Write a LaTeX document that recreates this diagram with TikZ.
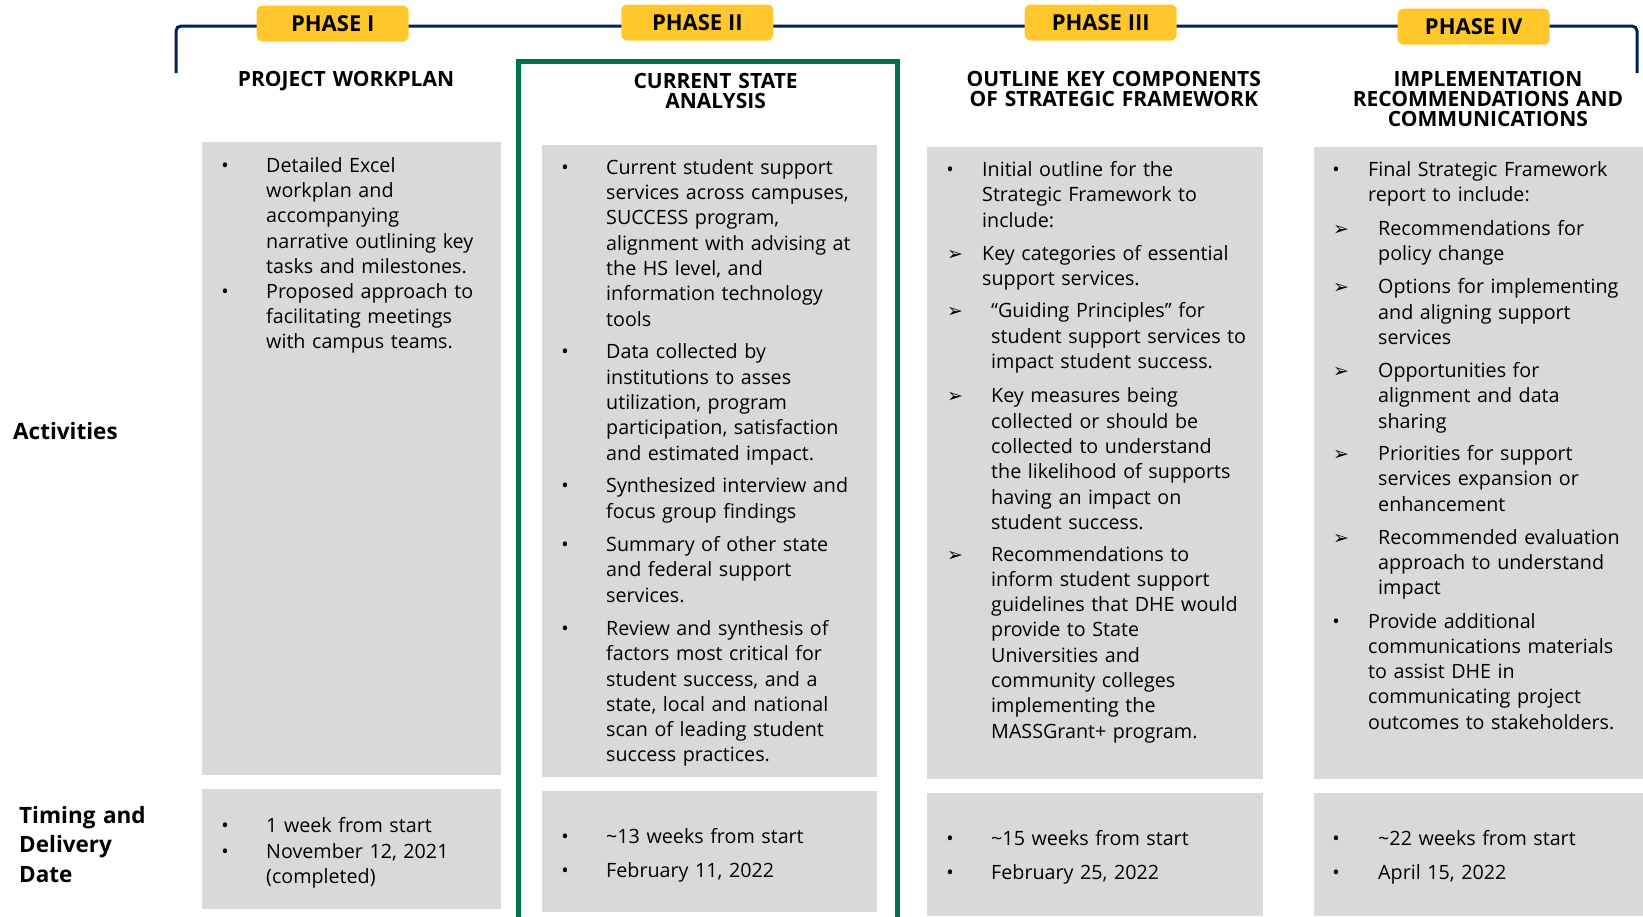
\documentclass[tikz,border=0pt]{standalone}
\usepackage{fontspec}
\setmainfont{Open Sans}
\newfontfamily\headfont{Open Sans}
\newfontfamily\symfont{DejaVu Sans}
\usetikzlibrary{positioning}

\definecolor{navyline}{RGB}{0,32,96}
\definecolor{phaseyellow}{RGB}{255,199,44}
\definecolor{framegreen}{RGB}{0,114,80}
\definecolor{boxgray}{RGB}{217,217,217}

\tikzset{
  phase/.style={fill=phaseyellow, rounded corners=6pt, minimum width=152pt,
    minimum height=36pt, inner sep=0pt, font=\headfont\bfseries\fontsize{22}{22}\selectfont},
  colhead/.style={anchor=base, text width=380pt, align=center, inner sep=0pt,
    font=\headfont\bfseries\fontsize{21}{20}\selectfont},
  rowhead/.style={anchor=base west, text width=170pt, align=left, inner sep=0pt,
    font=\bfseries\fontsize{22.5}{29.3}\selectfont},
  item/.style={anchor=base west, text width=340pt, align=left, inner sep=0pt,
    font=\fontsize{19.7}{25.3}\selectfont},
  dotmark/.style={anchor=base, inner sep=0pt, font=\fontsize{19.7}{25.3}\selectfont},
  arrowmark/.style={anchor=base, inner sep=0pt, font=\symfont\fontsize{19}{25.3}\selectfont}
}

\begin{document}
\begin{tikzpicture}[x=1pt, y=-1pt]
  \useasboundingbox (0,0) rectangle (1643,916);

  % timeline bar across the top
  \draw[navyline, line width=3pt, rounded corners=5pt]
    (176,73) -- (176,26) -- (1637,26) -- (1637,73);

  % grey panels: activities row, then timing row
  \fill[boxgray] (202,142) rectangle (501,775);
  \fill[boxgray] (542,145) rectangle (877,777);
  \fill[boxgray] (927,147) rectangle (1263,779);
  \fill[boxgray] (1314,147) rectangle (1643,779);
  \fill[boxgray] (202,789) rectangle (501,909);
  \fill[boxgray] (542,791) rectangle (877,912);
  \fill[boxgray] (927,793) rectangle (1263,916);
  \fill[boxgray] (1314,793) rectangle (1643,916);

  % frame round the current phase
  \draw[framegreen, line width=5pt] (518,930) -- (518,61) -- (897.5,61) -- (897.5,930);

  % phase badges
  \node[phase] (p1) at (332.7,23.6) {PHASE I};
  \node[phase] (p2) at (697.3,22.5) {PHASE II};
  \node[phase] (p3) at (1100.7,22.5) {PHASE III};
  \node[phase] (p4) at (1473.7,26.7) {PHASE IV};

  % column titles
  \node[colhead] (h1) at (346,86) {PROJECT WORKPLAN};
  \node[colhead] (h2) at (715.6,88) {CURRENT STATE\\ANALYSIS};
  \node[colhead] (h3) at (1113.8,86) {OUTLINE KEY COMPONENTS\\OF STRATEGIC FRAMEWORK};
  \node[colhead] (h4) at (1488,86) {IMPLEMENTATION\\RECOMMENDATIONS AND\\COMMUNICATIONS};

  % row titles
  \node[rowhead] (act) at (13,439) {Activities};
  \node[rowhead] (tim) at (19,823.6) {Timing and\\Delivery\\Date};

  % phase I
  \node[item] (a1) at (266,172.2) {Detailed Excel\\workplan and\\accompanying\\narrative outlining key\\tasks and milestones.};
  \node[item] (a2) at (266,298.0) {Proposed approach to\\facilitating meetings\\with campus teams.};
  \node[dotmark] (ma1) at (225,172.2) {•};
  \node[dotmark] (ma2) at (225,298.0) {•};

  % phase II
  \node[item] (b1) at (606,174.3) {Current student support\\services across campuses,\\SUCCESS program,\\alignment with advising at\\the HS level, and\\information technology\\tools};
  \node[item] (b2) at (606,358.8) {Data collected by\\institutions to asses\\utilization, program\\participation, satisfaction\\and estimated impact.};
  \node[item] (b3) at (606,492.9) {Synthesized interview and\\focus group findings};
  \node[item] (b4) at (606,551.5) {Summary of other state\\and federal support\\services.};
  \node[item] (b5) at (606,635.4) {Review and synthesis of\\factors most critical for\\student success, and a\\state, local and national\\scan of leading student\\success practices.};
  \node[dotmark] (mb1) at (565,174.3) {•};
  \node[dotmark] (mb2) at (565,358.8) {•};
  \node[dotmark] (mb3) at (565,492.9) {•};
  \node[dotmark] (mb4) at (565,551.5) {•};
  \node[dotmark] (mb5) at (565,635.4) {•};

  % phase III
  \node[item] (c1) at (982,176.4) {Initial outline for the\\Strategic Framework to\\include:};
  \node[item] (c2) at (982,260.3) {Key categories of essential\\support services.};
  \node[item] (c3) at (991,317.9) {“Guiding Principles” for\\student support services to\\impact student success.};
  \node[item] (c4) at (991,402.8) {Key measures being\\collected or should be\\collected to understand\\the likelihood of supports\\having an impact on\\student success.};
  \node[item] (c5) at (991,561.0) {Recommendations to\\inform student support\\guidelines that DHE would\\provide to State\\Universities and\\community colleges\\implementing the\\MASSGrant+ program.};
  \node[dotmark] (mc1) at (950,176.4) {•};
  \node[arrowmark] (mc2) at (955,260.3) {➢};
  \node[arrowmark] (mc3) at (955,317.9) {➢};
  \node[arrowmark] (mc4) at (955,402.8) {➢};
  \node[arrowmark] (mc5) at (955,561.0) {➢};

  % phase IV
  \node[item] (d1) at (1368,176.4) {Final Strategic Framework\\report to include:};
  \node[item] (d2) at (1378,235.1) {Recommendations for\\policy change};
  \node[item] (d3) at (1378,293.8) {Options for implementing\\and aligning support\\services};
  \node[item] (d4) at (1378,377.6) {Opportunities for\\alignment and data\\sharing};
  \node[item] (d5) at (1378,460.4) {Priorities for support\\services expansion or\\enhancement};
  \node[item] (d6) at (1378,544.2) {Recommended evaluation\\approach to understand\\impact};
  \node[item] (d7) at (1368,628.0) {Provide additional\\communications materials\\to assist DHE in\\communicating project\\outcomes to stakeholders.};
  \node[dotmark] (md1) at (1336,176.4) {•};
  \node[arrowmark] (md2) at (1341,235.1) {➢};
  \node[arrowmark] (md3) at (1341,293.8) {➢};
  \node[arrowmark] (md4) at (1341,377.6) {➢};
  \node[arrowmark] (md5) at (1341,460.4) {➢};
  \node[arrowmark] (md6) at (1341,544.2) {➢};
  \node[dotmark] (md7) at (1336,628.0) {•};

  % timing and delivery
  \node[item] (t1a) at (266,832.9) {1 week from start};
  \node[item] (t1b) at (266,858.2) {November 12, 2021\\(completed)};
  \node[item] (t2a) at (606,843.3) {\textasciitilde13 weeks from start};
  \node[item] (t2b) at (606,877.9) {February 11, 2022};
  \node[item] (t3a) at (991,845.4) {\textasciitilde15 weeks from start};
  \node[item] (t3b) at (991,879.0) {February 25, 2022};
  \node[item] (t4a) at (1378,845.4) {\textasciitilde22 weeks from start};
  \node[item] (t4b) at (1378,879.0) {April 15, 2022};
  \node[dotmark] (mt1a) at (225,832.9) {•};
  \node[dotmark] (mt1b) at (225,858.2) {•};
  \node[dotmark] (mt2a) at (565,843.3) {•};
  \node[dotmark] (mt2b) at (565,877.9) {•};
  \node[dotmark] (mt3a) at (950,845.4) {•};
  \node[dotmark] (mt3b) at (950,879.0) {•};
  \node[dotmark] (mt4a) at (1336,845.4) {•};
  \node[dotmark] (mt4b) at (1336,879.0) {•};
\end{tikzpicture}
\end{document}
